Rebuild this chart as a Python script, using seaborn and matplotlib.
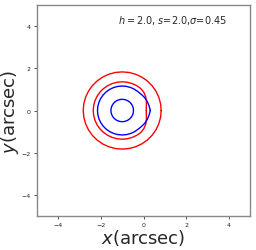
import numpy as np
import pandas as pd
import matplotlib
matplotlib.use('Agg')
import matplotlib.pyplot as plt
import seaborn as sns

# -----------------------------------------------------------------------------
# curves: polar radius (arcsec) around the lens centre
CENTER_X = -1.0
CENTER_Y = 0.0
ANGLES_DEG = [0, 10, 20, 30, 40, 50, 60, 70, 80, 90, 100, 110, 120, 130, 140,
              150, 160, 170, 180, 190, 200, 210, 220, 230, 240, 250, 260, 270,
              280, 290, 300, 310, 320, 330, 340, 350, 360]

R_RED_OUTER = [1.83] * 37
R_RED_INNER = [1.13, 1.15, 1.21, 1.28, 1.33, 1.36, 1.36, 1.36, 1.36, 1.36,
               1.36, 1.36, 1.36, 1.36, 1.36, 1.36, 1.36, 1.36, 1.36, 1.36,
               1.36, 1.36, 1.36, 1.36, 1.36, 1.36, 1.36, 1.36, 1.36, 1.36,
               1.36, 1.36, 1.33, 1.28, 1.21, 1.15, 1.13]
R_BLUE_OUTER = [1.32, 1.28, 1.25, 1.22, 1.18, 1.16, 1.16, 1.16, 1.16, 1.16,
                1.16, 1.16, 1.16, 1.16, 1.16, 1.16, 1.16, 1.16, 1.16, 1.16,
                1.16, 1.16, 1.16, 1.16, 1.16, 1.16, 1.16, 1.16, 1.16, 1.16,
                1.16, 1.16, 1.18, 1.22, 1.25, 1.28, 1.32]
R_BLUE_INNER = [0.53] * 37

CURVES = [('red', R_RED_OUTER), ('red', R_RED_INNER),
          ('blue', R_BLUE_OUTER), ('blue', R_BLUE_INNER)]

TICKS = [-4, -2, 0, 2, 4]
LABEL_TEXT = r'$h=2.0$, $s$=2.0,$\sigma$=0.45'

# -----------------------------------------------------------------------------


def to_xy(radii):
    ''' polar radii around the centre -> dataframe of x, y '''
    th = np.deg2rad(ANGLES_DEG)
    r = np.asarray(radii)
    return pd.DataFrame({'x': CENTER_X + r*np.cos(th),
                         'y': CENTER_Y + r*np.sin(th)})


sns.set_style('ticks')
fig = plt.figure(figsize=(2.56, 2.51), dpi=100)
ax = fig.add_axes([37/256, 1 - 217/251, 213/256, 211/251])

for color, radii in CURVES:
    df = to_xy(radii)
    sns.lineplot(data=df, x='x', y='y', sort=False, estimator=None,
                 color=color, linewidth=1.0, ax=ax)

ax.set_xlim(-5, 5)
ax.set_ylim(-5, 5)
ax.set_xticks(TICKS)
ax.set_yticks(TICKS)
ax.tick_params(labelsize=4.5, length=2.5, width=0.6, pad=2, color='#333333')
for sp in ax.spines.values():
    sp.set_color('#888888')
    sp.set_linewidth(1.0)

ax.set_xlabel(r'$x$(arcsec)', fontsize=13, labelpad=0)
ax.set_ylabel(r'$y$(arcsec)', fontsize=13, labelpad=0)
ax.text(0.38, 0.93, LABEL_TEXT, transform=ax.transAxes, fontsize=7.0,
        va='center', ha='left')

fig.savefig('out.png', dpi=100)
